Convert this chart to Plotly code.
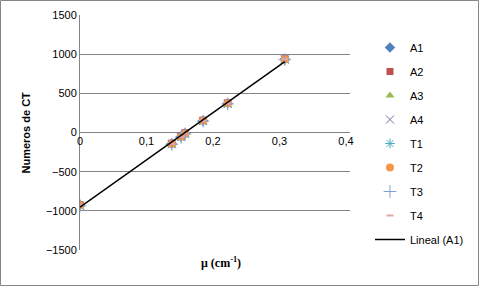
import numpy as np
import plotly.graph_objects as go

mu = [0.0, 0.138, 0.152, 0.158, 0.185, 0.222, 0.308]
A1 = [-925, -140, -50, -8, 152, 375, 938]
A2 = [-920, -135, -45, -3, 158, 380, 942]
A3 = [-945, -160, -70, -28, 135, 355, 920]
A4 = [-935, -150, -60, -18, 145, 365, 930]
T1 = [-940, -155, -65, -22, 140, 360, 925]
T2 = [-930, -145, -55, -12, 150, 372, 935]
T3 = [-935, -150, -60, -18, 145, 366, 930]
T4 = [-930, -145, -55, -12, 150, 370, 935]

series = [
    ("A1", A1, dict(symbol="diamond", color="#4F81BD", size=8)),
    ("A2", A2, dict(symbol="square", color="#C0504D", size=7)),
    ("A3", A3, dict(symbol="triangle-up", color="#9BBB59", size=8)),
    ("A4", A4, dict(symbol="x-thin", color="#8064A2", size=8, line=dict(color="#8064A2", width=1))),
    ("T1", T1, dict(symbol="asterisk", color="#4BACC6", size=8, line=dict(color="#4BACC6", width=1))),
    ("T2", T2, dict(symbol="circle", color="#F79646", size=8)),
    ("T3", T3, dict(symbol="cross-thin", color="#7F9FCF", size=9, line=dict(color="#7F9FCF", width=1))),
    ("T4", T4, dict(symbol="line-ew", color="#E6A3A2", size=5, line=dict(color="#E6A3A2", width=2))),
]

fig = go.Figure()
for i, (name, ys, mk) in enumerate(series):
    fig.add_trace(go.Scatter(x=mu, y=ys, mode="markers", name=name, marker=mk,
                             legendgroup=f"g{i}"))

slope, intercept = np.polyfit(mu, A1, 1)
xfit = [min(mu), max(mu)]
yfit = [slope * v + intercept for v in xfit]
fig.add_trace(go.Scatter(x=xfit, y=yfit, mode="lines", name="Lineal (A1)",
                         line=dict(color="black", width=1.5), legendgroup="g9"))

fig.update_layout(
    width=480, height=287,
    margin=dict(l=80, r=130, t=15, b=37, autoexpand=False),
    paper_bgcolor="white", plot_bgcolor="white",
    font=dict(family="Liberation Sans, Arial", size=11, color="#000000"),
    showlegend=True,
    legend=dict(x=1.074, xanchor="left", y=(235 - 18) / 235, yanchor="top", tracegroupgap=5,
                font=dict(size=11), bgcolor="rgba(0,0,0,0)", itemwidth=30),
    xaxis=dict(range=[0, 0.406], tickvals=[0, 0.1, 0.2, 0.3, 0.4],
               ticktext=["0", "0,1", "0,2", "0,3", "0,4"],
               showgrid=False, zeroline=False, showline=False,
               anchor="free", position=0.5, ticks="", ticklen=0,
               tickfont=dict(size=11)),
    yaxis=dict(range=[-1500, 1500], tickvals=[-1500, -1000, -500, 0, 500, 1000, 1500],
               showgrid=True, gridcolor="#868686", gridwidth=1,
               zeroline=False, showline=True, linecolor="#868686", linewidth=1,
               ticks="", tickfont=dict(size=11)),
    shapes=[dict(type="rect", xref="paper", yref="paper",
                 x0=-79.5 / 270, x1=(478.5 - 80) / 270, y0=-35.5 / 235, y1=(235 + 14.5) / 235,
                 line=dict(color="#868686", width=1), layer="above")],
    annotations=[
        dict(text="<b>Numeros de CT</b>", textangle=-90, x=-55 / 270, y=0.5,
             xref="paper", yref="paper", showarrow=False, xanchor="center",
             font=dict(family="Liberation Sans, Arial", size=11)),
        dict(text="<b>μ (cm<sup>-1</sup>)</b>", x=(221 - 80) / 270, y=-22 / 235,
             xref="paper", yref="paper", showarrow=False,
             font=dict(family="Liberation Serif, Times New Roman", size=12)),
    ],
)

fig.write_html("out.html", config={"displayModeBar": False},
               post_script="document.body.style.margin='0';document.body.style.overflow='hidden';")
